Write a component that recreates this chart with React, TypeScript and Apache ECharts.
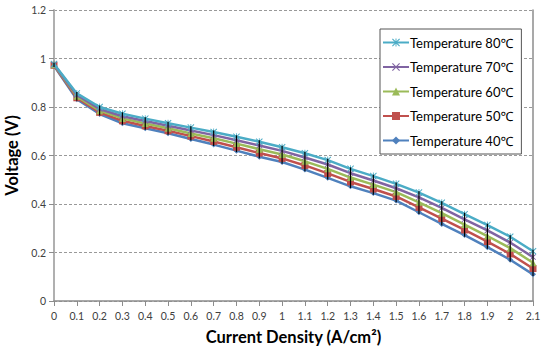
import React, { useEffect, useRef } from "react";
import * as echarts from "echarts";

const currentDensity = [0, 0.1, 0.2, 0.3, 0.4, 0.5, 0.6, 0.7, 0.8, 0.9, 1.0, 1.1, 1.2, 1.3, 1.4, 1.5, 1.6, 1.7, 1.8, 1.9, 2.0, 2.1];
const temp80 = [0.977, 0.856, 0.800, 0.772, 0.752, 0.733, 0.715, 0.697, 0.677, 0.657, 0.634, 0.609, 0.581, 0.545, 0.515, 0.483, 0.447, 0.405, 0.358, 0.313, 0.265, 0.205];
const temp70 = [0.975, 0.850, 0.792, 0.762, 0.742, 0.723, 0.703, 0.684, 0.663, 0.641, 0.619, 0.592, 0.563, 0.527, 0.497, 0.465, 0.427, 0.384, 0.337, 0.291, 0.241, 0.181];
const temp60 = [0.974, 0.844, 0.785, 0.753, 0.732, 0.712, 0.691, 0.671, 0.649, 0.626, 0.604, 0.576, 0.545, 0.509, 0.480, 0.449, 0.407, 0.362, 0.315, 0.268, 0.218, 0.158];
const temp50 = [0.972, 0.838, 0.778, 0.743, 0.722, 0.702, 0.680, 0.658, 0.634, 0.610, 0.588, 0.559, 0.526, 0.491, 0.462, 0.431, 0.386, 0.340, 0.293, 0.245, 0.194, 0.134];
const temp40 = [0.970, 0.832, 0.771, 0.733, 0.712, 0.692, 0.668, 0.645, 0.620, 0.595, 0.573, 0.542, 0.508, 0.473, 0.445, 0.414, 0.366, 0.318, 0.272, 0.222, 0.170, 0.110];
const errLow = [0.965, 0.826, 0.765, 0.727, 0.706, 0.686, 0.662, 0.639, 0.614, 0.589, 0.566, 0.535, 0.501, 0.466, 0.438, 0.407, 0.359, 0.311, 0.265, 0.215, 0.163, 0.103];
const errHigh = [0.982, 0.862, 0.806, 0.778, 0.758, 0.739, 0.721, 0.703, 0.683, 0.663, 0.640, 0.615, 0.587, 0.551, 0.521, 0.489, 0.453, 0.411, 0.364, 0.319, 0.271, 0.211];
const seriesNames = ["Temperature 80℃", "Temperature 70℃", "Temperature 60℃", "Temperature 50℃", "Temperature 40℃"];

const xPath = "path://M0,1 L1,0 L5,4 L9,0 L10,1 L6,5 L10,9 L9,10 L5,6 L1,10 L0,9 L4,5 Z";
const starPath = "path://M0,1 L1,0 L5,4 L9,0 L10,1 L6,5 L10,9 L9,10 L5,6 L1,10 L0,9 L4,5 Z M4.4,0 L5.6,0 L5.6,10 L4.4,10 Z";

export default function App() {
  const ref = useRef<HTMLDivElement>(null);
  useEffect(() => {
    if (!ref.current) return;
    const chart = echarts.init(ref.current, null, { renderer: "svg" });
    const font = "Lato, 'Noto Sans', sans-serif";
    const mk = (name: string, values: number[], color: string, symbol: string, size: number, z: number) => ({
      name,
      type: "line",
      data: currentDensity.map((x, i) => [x, values[i]]),
      symbol,
      symbolSize: size,
      showSymbol: true,
      lineStyle: { color, width: 2.5 },
      itemStyle: { color },
      z,
    });
    chart.setOption({
      animation: false,
      textStyle: { fontFamily: font },
      grid: { left: 54, right: 9, top: 10, bottom: 48, containLabel: false, outerBoundsMode: "none" },
      legend: {
        orient: "vertical",
        left: 380,
        top: 29,
        width: 145,
        padding: [7, 8, 7, 2],
        itemGap: 11.5,
        itemWidth: 26,
        itemHeight: 10,
        borderColor: "#555",
        borderWidth: 1,
        backgroundColor: "#fff",
        textStyle: { fontSize: 13, color: "#000", fontFamily: font, padding: [0, 0, 0, -4] },
        data: seriesNames,
      },
      xAxis: {
        type: "value",
        min: 0,
        max: 2.1,
        interval: 0.1,
        name: "Current Density (A/cm²)",
        nameLocation: "middle",
        nameGap: 27,
        nameTextStyle: { fontSize: 16.5, fontWeight: "bold", color: "#000", fontFamily: font },
        axisLine: { lineStyle: { color: "#8c8c8c", width: 1.5 } },
        axisTick: { show: true, length: 5, lineStyle: { color: "#8c8c8c" } },
        axisLabel: { fontSize: 10.5, color: "#404040", margin: 9, fontFamily: font },
        splitLine: { show: false },
      },
      yAxis: [
        {
          type: "value",
          min: 0,
          max: 1.2,
          interval: 0.2,
          name: "Voltage (V)",
          nameLocation: "middle",
          nameGap: 26,
          nameTextStyle: { fontSize: 16.5, fontWeight: "bold", color: "#000", fontFamily: font },
          axisLine: { show: true, lineStyle: { color: "#b0b0b0", width: 2 } },
          axisTick: { show: true, length: 5, lineStyle: { color: "#8c8c8c" } },
          axisLabel: { fontSize: 10.5, color: "#404040", margin: 8, fontFamily: font },
          splitLine: { show: true, lineStyle: { color: "#999", type: [3, 2], width: 1 } },
        },
        {
          type: "value",
          min: 0,
          max: 1.2,
          interval: 0.2,
          position: "right",
          axisLine: { show: true, lineStyle: { color: "#8c8c8c", width: 1.5 } },
          axisTick: { show: false },
          axisLabel: { show: false },
          splitLine: { show: false },
        },
      ],
      series: [
        mk(seriesNames[4], temp40, "#4F81BD", "diamond", 6, 2),
        mk(seriesNames[3], temp50, "#C0504D", "rect", 7, 3),
        mk(seriesNames[2], temp60, "#9BBB59", "triangle", 7, 4),
        mk(seriesNames[1], temp70, "#8064A2", xPath, 6, 5),
        mk(seriesNames[0], temp80, "#4BACC6", starPath, 7, 6),
        {
          type: "custom",
          name: "error",
          z: 10,
          data: currentDensity.map((x, i) => [x, errLow[i], errHigh[i]]),
          renderItem: (params: any, api: any) => {
            const lo = api.coord([api.value(0), api.value(1)]);
            const hi = api.coord([api.value(0), api.value(2)]);
            return {
              type: "line",
              shape: { x1: lo[0], y1: lo[1], x2: hi[0], y2: hi[1] },
              style: { stroke: "#000", lineWidth: 1.2 },
            };
          },
        },
      ],
    });
    return () => chart.dispose();
  }, []);
  return <div ref={ref} style={{ width: 542, height: 349, position: "absolute", left: 0, top: 0 }} />;
}
